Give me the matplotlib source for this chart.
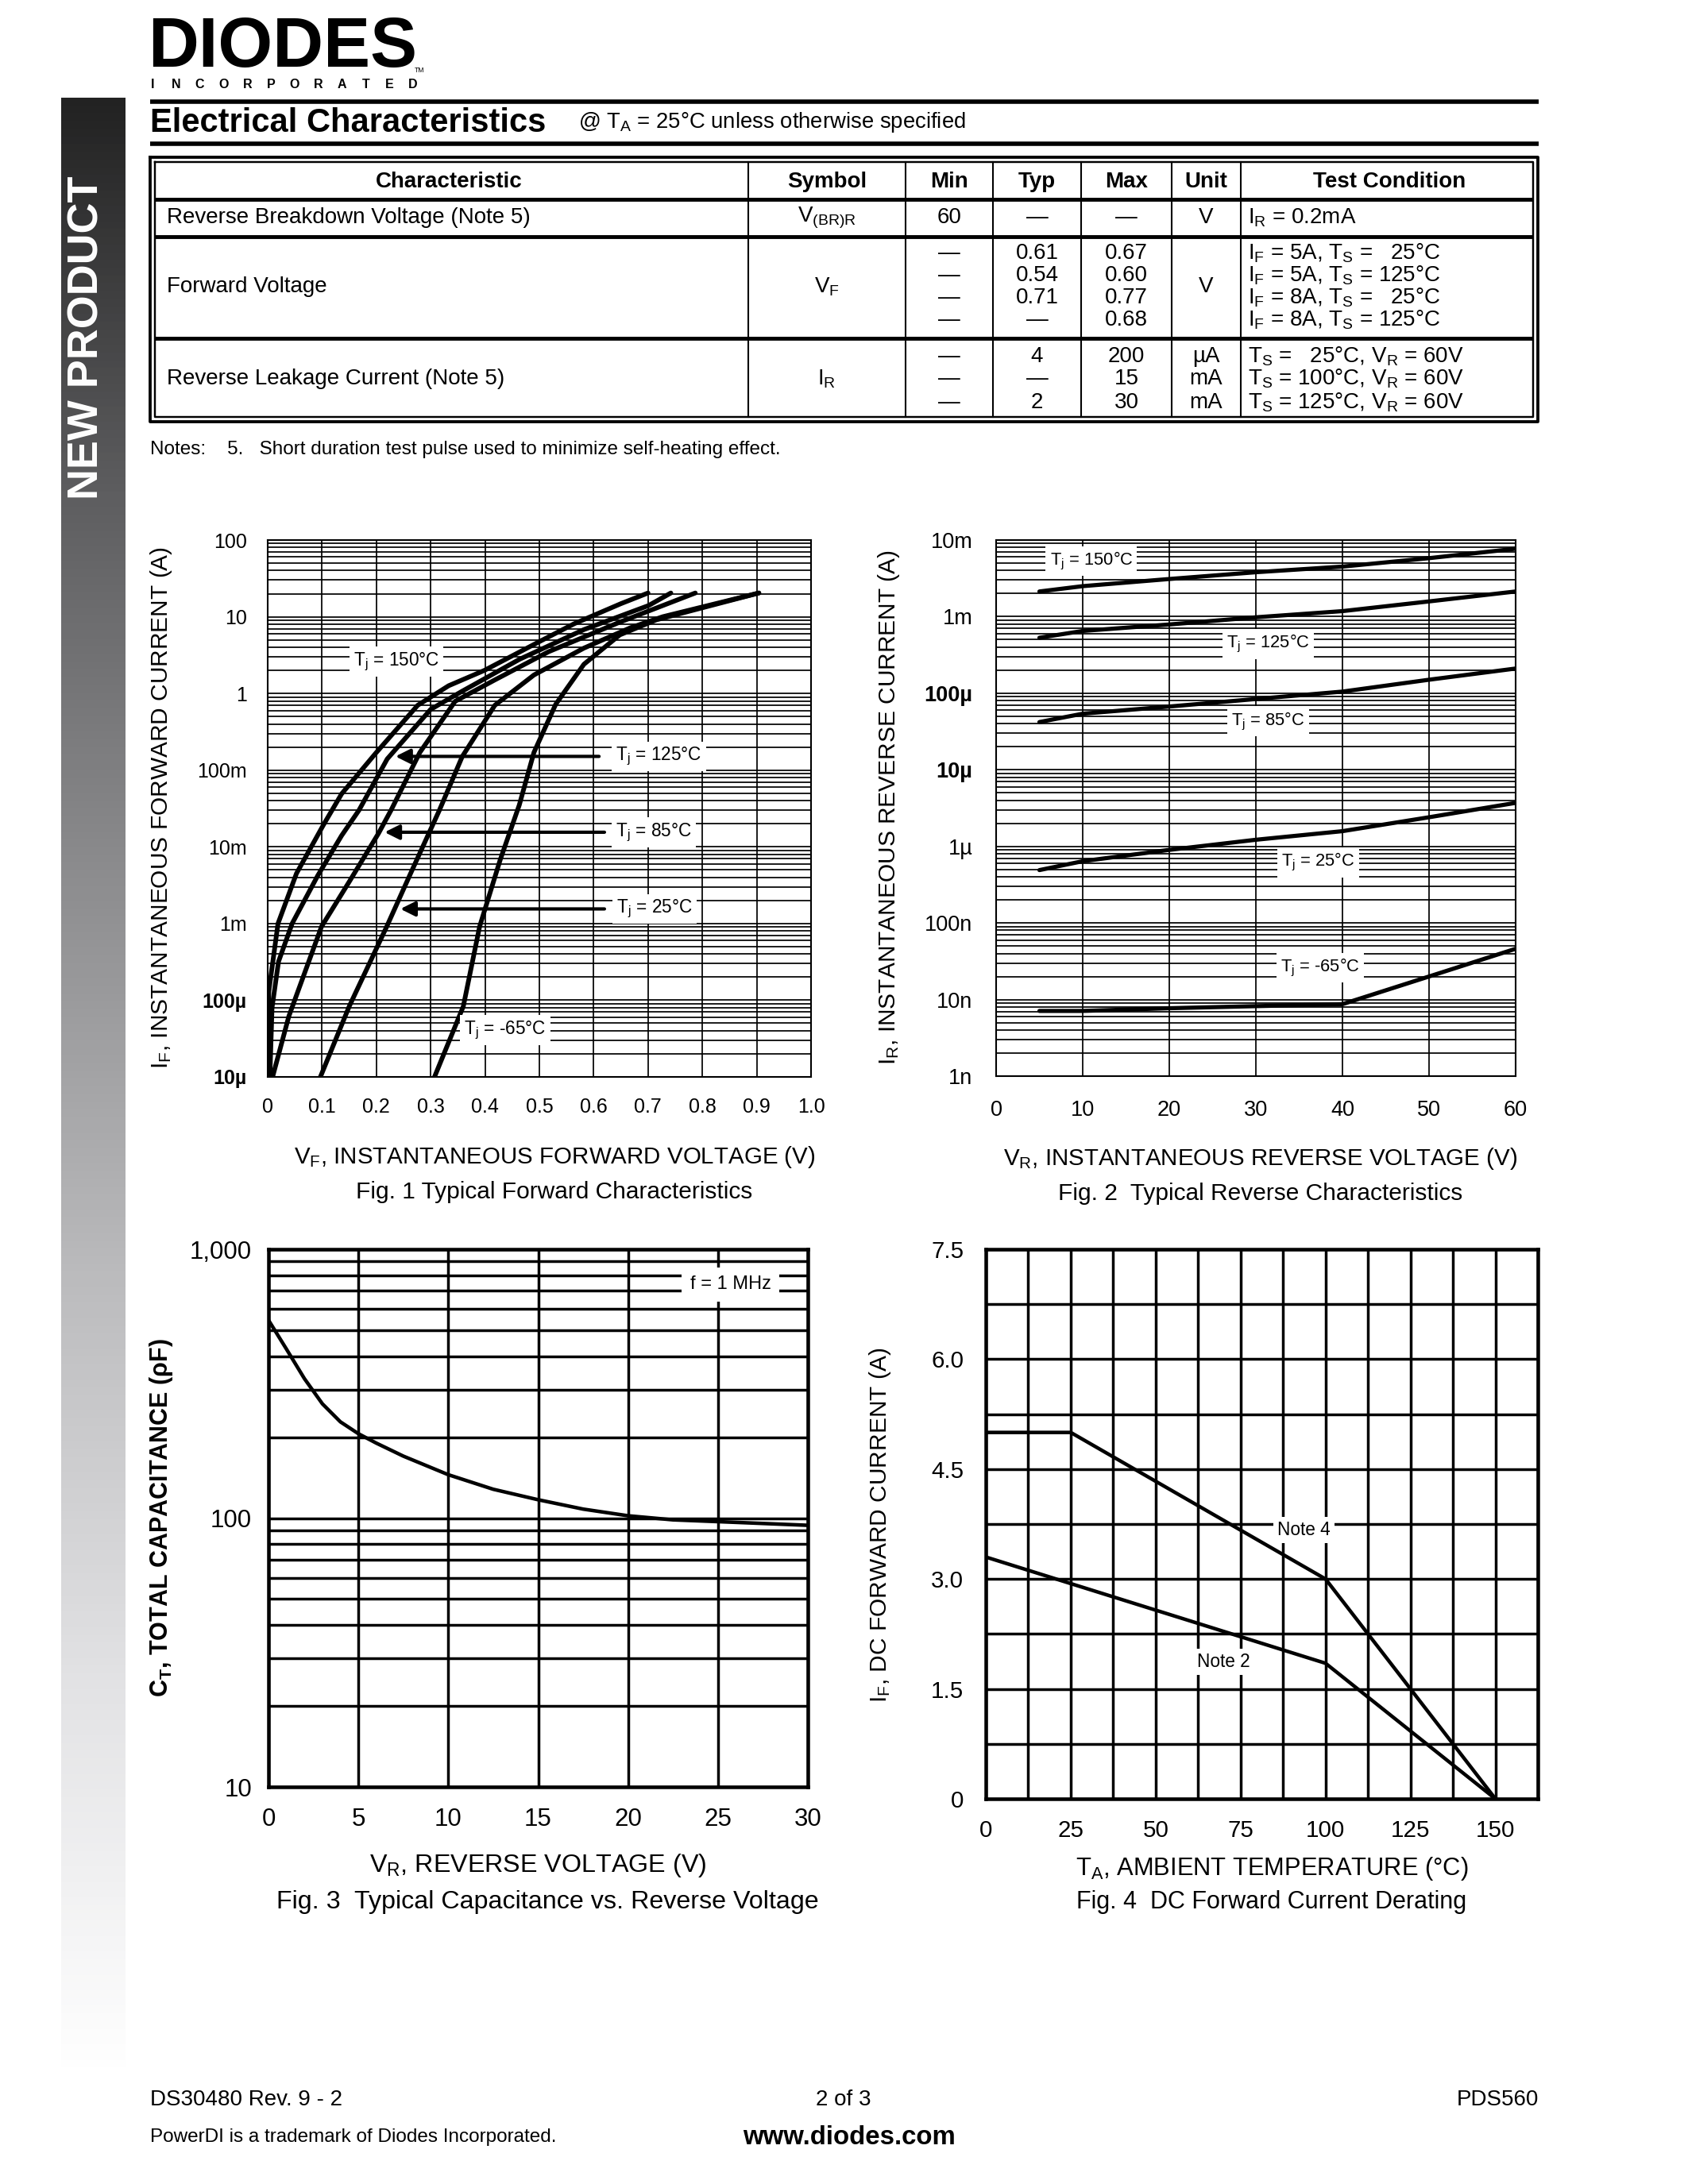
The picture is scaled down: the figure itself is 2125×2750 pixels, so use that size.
import numpy as np
import matplotlib
matplotlib.use('Agg')
import matplotlib.pyplot as plt
from matplotlib.ticker import LogLocator, NullFormatter, MultipleLocator
from matplotlib.colors import LinearSegmentedColormap

plt.rcParams['font.family'] = ['Liberation Sans', 'DejaVu Sans']
plt.rcParams['mathtext.fontset'] = 'custom'
plt.rcParams['mathtext.rm'] = 'Liberation Sans'
plt.rcParams['mathtext.it'] = 'Liberation Sans:italic'
plt.rcParams['mathtext.bf'] = 'Liberation Sans:bold'

# ---- Fig. 1 typical forward characteristics (V, A) ----
vf_150 = [0.0, 0.002, 0.019, 0.053, 0.102, 0.136, 0.20, 0.276, 0.333, 0.399, 0.504, 0.564, 0.65, 0.70]
if_150 = [1e-5, 1.3e-4, 1e-3, 4.5e-3, 0.019, 0.049, 0.17, 0.70, 1.26, 2.0, 4.9, 8.1, 14.8, 20.4]
vf_125 = [0.004, 0.008, 0.02, 0.045, 0.092, 0.136, 0.168, 0.22, 0.30, 0.358, 0.464, 0.582, 0.701, 0.742]
if_125 = [1e-5, 8e-5, 3.2e-4, 1e-3, 4.2e-3, 0.014, 0.030, 0.14, 0.62, 1.07, 2.8, 6.8, 14.0, 20.4]
vf_85 = [0.009, 0.039, 0.099, 0.15, 0.204, 0.227, 0.28, 0.345, 0.418, 0.517, 0.648, 0.787]
if_85 = [1e-5, 6.2e-5, 9.1e-4, 3.5e-3, 0.015, 0.030, 0.17, 0.79, 1.5, 3.5, 8.5, 20.4]
vf_25 = [0.097, 0.15, 0.219, 0.263, 0.316, 0.358, 0.418, 0.49, 0.582, 0.668, 0.727, 0.904]
if_25 = [1e-5, 8.3e-5, 9.1e-4, 4.5e-3, 0.030, 0.15, 0.70, 1.74, 3.9, 7.2, 10.0, 20.4]
vf_m65 = [0.307, 0.36, 0.39, 0.428, 0.463, 0.49, 0.53, 0.582, 0.648, 0.715, 0.904]
if_m65 = [1e-5, 8.3e-5, 9.1e-4, 6.8e-3, 0.035, 0.17, 0.72, 2.4, 5.8, 9.1, 20.4]
fig1_yticks = [1e-5, 1e-4, 1e-3, 1e-2, 1e-1, 1, 10, 100]
fig1_ylabels = ['10µ', '100µ', '1m', '10m', '100m', '1', '10', '100']
fig1_xticks = [0, 0.1, 0.2, 0.3, 0.4, 0.5, 0.6, 0.7, 0.8, 0.9, 1.0]
fig1_xlabels = ['0', '0.1', '0.2', '0.3', '0.4', '0.5', '0.6', '0.7', '0.8', '0.9', '1.0']

# ---- Fig. 2 typical reverse characteristics (V, A) ----
vr_rev = [5, 10, 20, 30, 40, 50, 60]
ir_150 = [2.13e-3, 2.5e-3, 3.1e-3, 3.8e-3, 4.5e-3, 5.8e-3, 7.7e-3]
ir_125 = [5.3e-4, 6.5e-4, 7.9e-4, 9.8e-4, 1.18e-3, 1.58e-3, 2.13e-3]
ir_85 = [4.2e-5, 5.4e-5, 6.7e-5, 8.4e-5, 1.05e-4, 1.5e-4, 2.1e-4]
ir_25 = [4.9e-7, 6.4e-7, 9.0e-7, 1.22e-6, 1.58e-6, 2.4e-6, 3.7e-6]
ir_m65 = [7.1e-9, 7.1e-9, 7.7e-9, 8.2e-9, 8.7e-9, 2.0e-8, 4.6e-8]
fig2_yticks = [1e-9, 1e-8, 1e-7, 1e-6, 1e-5, 1e-4, 1e-3, 1e-2]
fig2_ylabels = ['1n', '10n', '100n', '1µ', '10µ', '100µ', '1m', '10m']
fig2_xticks = [0, 10, 20, 30, 40, 50, 60]

# ---- Fig. 3 capacitance vs reverse voltage ----
vr_cap = [0, 1, 2, 3, 4, 5, 6, 7.5, 10, 12.5, 15, 17.5, 20, 22.5, 25, 30]
ct_pf = [545, 425, 330, 266, 228, 206, 190, 170, 145, 128, 117, 108, 102, 98.5, 97, 94]
fig3_yticks = [10, 100, 1000]
fig3_ylabels = ['10', '100', '1,000']
fig3_xticks = [0, 5, 10, 15, 20, 25, 30]

# ---- Fig. 4 DC forward current derating ----
ta_note4 = [0, 25, 100, 150]
if_note4 = [5.0, 5.0, 3.0, 0.0]
ta_note2 = [0, 100, 150]
if_note2 = [3.3, 1.85, 0.0]
fig4_yticks = [0, 1.5, 3.0, 4.5, 6.0, 7.5]
fig4_ylabels = ['0', '1.5', '3.0', '4.5', '6.0', '7.5']
fig4_xticks = [0, 25, 50, 75, 100, 125, 150]

# ---- table ----
table_header = ['Characteristic', 'Symbol', 'Min', 'Typ', 'Max', 'Unit', 'Test Condition']
row1 = ['Reverse Breakdown Voltage (Note 5)', r'V$_\mathregular{(BR)R}$', ['60'], ['—'], ['—'], ['V'],
        [r'I$_\mathregular{R}$ = 0.2mA']]
row2 = ['Forward Voltage', r'V$_\mathregular{F}$', ['—', '—', '—', '—'], ['0.61', '0.54', '0.71', '—'],
        ['0.67', '0.60', '0.77', '0.68'], ['V'],
        [r'I$_\mathregular{F}$ = 5A, T$_\mathregular{S}$ =   25°C', r'I$_\mathregular{F}$ = 5A, T$_\mathregular{S}$ = 125°C',
         r'I$_\mathregular{F}$ = 8A, T$_\mathregular{S}$ =   25°C', r'I$_\mathregular{F}$ = 8A, T$_\mathregular{S}$ = 125°C']]
row3 = ['Reverse Leakage Current (Note 5)', r'I$_\mathregular{R}$', ['—', '—', '—'], ['4', '—', '2'],
        ['200', '15', '30'], ['µA', 'mA', 'mA'],
        [r'T$_\mathregular{S}$ =   25°C, V$_\mathregular{R}$ = 60V', r'T$_\mathregular{S}$ = 100°C, V$_\mathregular{R}$ = 60V',
         r'T$_\mathregular{S}$ = 125°C, V$_\mathregular{R}$ = 60V']]

W, H = 2125, 2750
fig = plt.figure(figsize=(W / 250, H / 250), dpi=250)


def rect(x0, y0, x1, y1):
    return [x0 / W, 1 - y1 / H, (x1 - x0) / W, (y1 - y0) / H]


# page layer in pixel coordinates
page = fig.add_axes([0, 0, 1, 1])
page.axis('off')

# side bar
cmap = LinearSegmentedColormap.from_list('bar', ['#222222', '#5e5e60', '#8e8e90', '#bcbcbe', '#e2e2e4', '#ffffff'])
grad = np.linspace(0, 1, 256).reshape(-1, 1)
page.imshow(grad, extent=(77, 158, 2613, 123), aspect='auto', cmap=cmap, origin='upper')
page.set_xlim(0, W)
page.set_ylim(H, 0)
page.text(110, 425, 'NEW PRODUCT', rotation=90, color='white', weight='bold', size=15.5,
          ha='center', va='center')

# logo
page.text(186, 61, 'DIODES', size=25.5, weight='heavy', ha='left', va='center', color='black')
page.plot([186, 528], [65, 65], color='white', lw=1.0)
page.text(522, 88, 'TM', size=2.5, ha='left', va='center')
for i, ch in enumerate('INCORPORATED'):
    page.text(192 + i * 29.8, 106, ch, size=4.6, weight='bold', ha='center', va='center')

# header
page.plot([189, 1937], [128, 128], color='black', lw=1.6, solid_capstyle='butt')
page.plot([189, 1937], [181, 181], color='black', lw=1.6, solid_capstyle='butt')
page.text(189, 155, 'Electrical Characteristics', size=12, weight='bold', ha='left', va='center')
page.text(728, 154, r'@ T$_\mathregular{A}$ = 25°C unless otherwise specified', size=7.95, ha='left', va='center')

# table
col_x = [189, 942, 1140, 1250, 1361, 1475, 1562, 1936]
row_y = [198, 251, 298, 426, 531]
page.plot([189, 1936, 1936, 189, 189], [198, 198, 531, 531, 198], color='black', lw=1.1)
page.plot([195, 1930, 1930, 195, 195], [204, 204, 525, 525, 204], color='black', lw=0.7)
for y in row_y[1:-1]:
    page.plot([195, 1930], [y, y], color='black', lw=1.4, solid_capstyle='butt')
for x in col_x[1:-1]:
    page.plot([x, x], [204, 525], color='black', lw=0.6)
fs_tab = 8.0
for j, h in enumerate(table_header):
    page.text((col_x[j] + col_x[j + 1]) / 2, 229, h, size=fs_tab, weight='bold', ha='center', va='center')

row_lines = [[274], [319, 347, 375, 403], [449, 477, 507]]
row_mid = [274, 361, 477]
for r, row in enumerate([row1, row2, row3]):
    page.text(210, row_mid[r], row[0], size=fs_tab, ha='left', va='center')
    page.text(1041, row_mid[r], row[1], size=fs_tab, ha='center', va='center')
    for c in range(2, 5):
        for k, s in enumerate(row[c]):
            page.text((col_x[c] + col_x[c + 1]) / 2, row_lines[r][k], s, size=fs_tab, ha='center', va='center')
    units = row[5]
    if len(units) == 1:
        page.text(1518, row_mid[r], units[0], size=fs_tab, ha='center', va='center')
    else:
        for k, s in enumerate(units):
            page.text(1518, row_lines[r][k], s, size=fs_tab, ha='center', va='center')
    for k, s in enumerate(row[6]):
        page.text(1571, row_lines[r][k], s, size=fs_tab, ha='left', va='center')

page.text(189, 566, 'Notes:    5.   Short duration test pulse used to minimize self-heating effect.',
          size=7.0, ha='left', va='center')

# footer
page.text(189, 2644, 'DS30480 Rev. 9 - 2', size=8, ha='left', va='center')
page.text(1062, 2644, '2 of 3', size=8, ha='center', va='center')
page.text(1937, 2644, 'PDS560', size=8, ha='right', va='center')
page.text(189, 2691, 'PowerDI is a trademark of Diodes Incorporated.', size=7.0, ha='left', va='center')
page.text(1069, 2691, 'www.diodes.com', size=9.5, weight='bold', ha='center', va='center')


def log_grid(ax, lw):
    ax.set_yscale('log')
    ax.yaxis.set_minor_locator(LogLocator(base=10, subs=np.arange(2, 10), numticks=100))
    ax.yaxis.set_minor_formatter(NullFormatter())
    ax.grid(True, which='both', axis='y', color='black', lw=lw)
    ax.grid(True, which='major', axis='x', color='black', lw=lw)
    ax.tick_params(which='both', length=0)


lbl_box = dict(facecolor='white', edgecolor='none', pad=1.5)

# ---- Fig. 1 ----
ax1 = fig.add_axes(rect(337, 680, 1021, 1356))
log_grid(ax1, 0.5)
for v, i in [(vf_150, if_150), (vf_125, if_125), (vf_85, if_85), (vf_25, if_25), (vf_m65, if_m65)]:
    ax1.plot(v, i, color='black', lw=1.7, solid_capstyle='round')
ax1.set_xlim(0, 1.0)
ax1.set_ylim(1e-5, 100)
ax1.set_yticks(fig1_yticks, fig1_ylabels)
ax1.set_xticks(fig1_xticks, fig1_xlabels)
ax1.tick_params(axis='y', pad=7.5, labelsize=7.2)
ax1.tick_params(axis='x', pad=7.5, labelsize=7.2)
for t in ax1.get_yticklabels():
    if 'µ' in t.get_text():
        t.set_fontweight('bold')
for s in ax1.spines.values():
    s.set_linewidth(0.6)
arrow_kw = dict(arrowstyle='-|>', color='black', lw=1.2, mutation_scale=11)
ax1.annotate('', xy=(0.225, 0.151), xytext=(0.62, 0.151), arrowprops=arrow_kw)
ax1.annotate('', xy=(0.205, 0.0155), xytext=(0.63, 0.0155), arrowprops=arrow_kw)
ax1.annotate('', xy=(0.234, 1.55e-3), xytext=(0.63, 1.55e-3), arrowprops=arrow_kw)
ax1.text(0.237, 2.6, r'T$_\mathregular{j}$ = 150°C', size=6.5, ha='center', va='center', bbox=lbl_box)
ax1.text(0.72, 0.151, r'T$_\mathregular{j}$ = 125°C', size=6.5, ha='center', va='center', bbox=lbl_box)
ax1.text(0.71, 0.0155, r'T$_\mathregular{j}$ = 85°C', size=6.5, ha='center', va='center', bbox=lbl_box)
ax1.text(0.712, 1.55e-3, r'T$_\mathregular{j}$ = 25°C', size=6.5, ha='center', va='center', bbox=lbl_box)
ax1.text(0.437, 4.1e-5, r'T$_\mathregular{j}$ = -65°C', size=6.5, ha='center', va='center', bbox=lbl_box)
page.text(203, 1017, r'I$_\mathregular{F}$, INSTANTANEOUS FORWARD CURRENT (A)', rotation=90, size=8.6,
          ha='center', va='center')
page.text(698, 1457, r'V$_\mathregular{F}$, INSTANTANEOUS FORWARD VOLTAGE (V)', size=8.5, ha='center', va='center')
page.text(698, 1501, 'Fig. 1 Typical Forward Characteristics', size=8.6, ha='center', va='center')

# ---- Fig. 2 ----
ax2 = fig.add_axes(rect(1254, 680, 1908, 1355))
log_grid(ax2, 0.5)
for i in [ir_150, ir_125, ir_85, ir_25, ir_m65]:
    ax2.plot(vr_rev, i, color='black', lw=1.5, solid_capstyle='round')
ax2.set_xlim(0, 60)
ax2.set_ylim(1e-9, 1e-2)
ax2.set_yticks(fig2_yticks, fig2_ylabels)
ax2.set_xticks(fig2_xticks)
ax2.tick_params(axis='y', pad=8.5, labelsize=7.8)
ax2.tick_params(axis='x', pad=8.5, labelsize=7.8)
for t in ax2.get_yticklabels():
    if t.get_text() in ('100µ', '10µ'):
        t.set_fontweight('bold')
for s in ax2.spines.values():
    s.set_linewidth(0.6)
ax2.text(11.0, 5.3e-3, r'T$_\mathregular{j}$ = 150°C', size=6.3, ha='center', va='center', bbox=lbl_box)
ax2.text(31.4, 4.4e-4, r'T$_\mathregular{j}$ = 125°C', size=6.3, ha='center', va='center', bbox=lbl_box)
ax2.text(31.4, 4.3e-5, r'T$_\mathregular{j}$ = 85°C', size=6.3, ha='center', va='center', bbox=lbl_box)
ax2.text(37.2, 6.2e-7, r'T$_\mathregular{j}$ = 25°C', size=6.3, ha='center', va='center', bbox=lbl_box)
ax2.text(37.4, 2.6e-8, r'T$_\mathregular{j}$ = -65°C', size=6.3, ha='center', va='center', bbox=lbl_box)
page.text(1119, 1017, r'I$_\mathregular{R}$, INSTANTANEOUS REVERSE CURRENT (A)', rotation=90, size=8.6,
          ha='center', va='center')
page.text(1587, 1459, r'V$_\mathregular{R}$, INSTANTANEOUS REVERSE VOLTAGE (V)', size=8.5, ha='center', va='center')
page.text(1587, 1503, 'Fig. 2  Typical Reverse Characteristics', size=8.6, ha='center', va='center')

# ---- Fig. 3 ----
ax3 = fig.add_axes(rect(338, 1573, 1017, 2250))
log_grid(ax3, 1.0)
ax3.plot(vr_cap, ct_pf, color='black', lw=1.3)
ax3.set_xlim(0, 30)
ax3.set_ylim(10, 1000)
ax3.set_yticks(fig3_yticks, fig3_ylabels)
ax3.set_xticks(fig3_xticks)
ax3.tick_params(axis='y', pad=6, labelsize=9)
ax3.tick_params(axis='x', pad=7.5, labelsize=9)
for s in ax3.spines.values():
    s.set_linewidth(1.3)
ax3.text(25.7, 740, 'f = 1 MHz', size=6.8, ha='center', va='center',
         bbox=dict(facecolor='white', edgecolor='none', pad=3))
page.text(203, 1911, r'C$_\mathbf{T}$, TOTAL CAPACITANCE (ρF)', rotation=90, size=8.8, weight='bold',
          ha='center', va='center')
page.text(677, 2349, r'V$_\mathregular{R}$, REVERSE VOLTAGE (V)', size=9.3, ha='center', va='center')
page.text(689, 2395, 'Fig. 3  Typical Capacitance vs. Reverse Voltage', size=9.3, ha='center', va='center')

# ---- Fig. 4 ----
ax4 = fig.add_axes(rect(1241, 1573, 1936, 2265))
ax4.plot(ta_note4, if_note4, color='black', lw=1.3)
ax4.plot(ta_note2, if_note2, color='black', lw=1.3)
ax4.set_xlim(0, 162.5)
ax4.set_ylim(0, 7.5)
ax4.xaxis.set_minor_locator(MultipleLocator(12.5))
ax4.yaxis.set_minor_locator(MultipleLocator(0.75))
ax4.grid(True, which='both', color='black', lw=1.0)
ax4.set_yticks(fig4_yticks, fig4_ylabels)
ax4.set_xticks(fig4_xticks)
ax4.tick_params(which='both', length=0)
ax4.tick_params(axis='y', pad=8, labelsize=8.5)
ax4.tick_params(axis='x', pad=7.5, labelsize=8.5)
for s in ax4.spines.values():
    s.set_linewidth(1.3)
ax4.text(93.7, 3.67, 'Note 4', size=6.5, ha='center', va='center', bbox=lbl_box)
ax4.text(70.1, 1.87, 'Note 2', size=6.5, ha='center', va='center', bbox=lbl_box)
page.text(1108, 1920, r'I$_\mathregular{F}$, DC FORWARD CURRENT (A)', rotation=90, size=8.6,
          ha='center', va='center')
page.text(1601, 2353, r'T$_\mathregular{A}$, AMBIENT TEMPERATURE (°C)', size=8.9, ha='center', va='center')
page.text(1601, 2395, 'Fig. 4  DC Forward Current Derating', size=8.8, ha='center', va='center')

fig.savefig('out.png', dpi=250)
